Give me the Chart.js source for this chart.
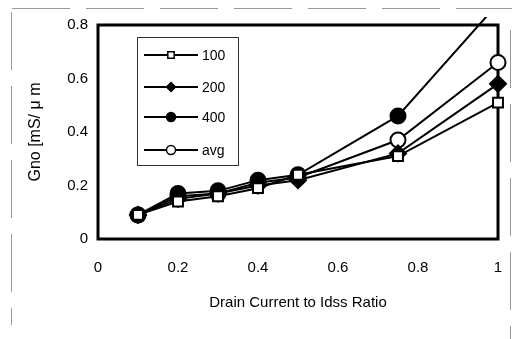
<!DOCTYPE html>
<html>
<head>
<meta charset="utf-8">
<script src="https://cdn.jsdelivr.net/npm/chart.js@4/dist/chart.umd.min.js"></script>
<style>
  html, body { margin: 0; padding: 0; background: #fff; }
  #wrap { width: 512px; height: 339px; position: relative; }
</style>
</head>
<body>
<div id="wrap"><canvas id="chart" width="512" height="339"></canvas></div>
<script>
// drain current / Idss ratio
const ratios = [0.1, 0.2, 0.3, 0.4, 0.5, 0.75, 1.0];
const series100 = [0.09, 0.14, 0.16, 0.19, 0.24, 0.31, 0.51];
const series200 = [0.09, 0.15, 0.17, 0.20, 0.22, 0.32, 0.58];
const series400 = [0.09, 0.17, 0.18, 0.22, 0.24, 0.46, 0.88];
const seriesAvg = [0.09, 0.16, 0.17, 0.21, 0.23, 0.37, 0.66];
const xTicks = [0, 0.2, 0.4, 0.6, 0.8, 1];
const yTicks = [0, 0.2, 0.4, 0.6, 0.8];

const FONT = "'Liberation Sans', Arial, sans-serif";

const toPoints = (vals) => vals.map((v, i) => ({ x: ratios[i], y: v }));

const makeSet = (label, vals, style, fill, radius) => ({
  label: label,
  data: toPoints(vals),
  borderColor: '#000',
  borderWidth: 2,
  pointStyle: style,
  pointRadius: radius,
  pointBorderWidth: 2,
  pointBackgroundColor: fill,
  pointBorderColor: '#000',
  tension: 0,
  clip: { left: 10, top: 8, right: 10, bottom: 10 }
});

const datasets = [
  makeSet('100', series100, 'rect', '#fff', 7),
  makeSet('200', series200, 'rectRot', '#000', 8),
  makeSet('400', series400, 'circle', '#000', 7.5),
  makeSet('avg', seriesAvg, 'circle', '#fff', 7.5)
];

// box legend inside the plot, like the original figure
const boxLegend = {
  id: 'boxLegend',
  afterDraw(chart) {
    const ctx = chart.ctx;
    const x0 = 137, y0 = 37, w = 101, h = 128;
    ctx.save();
    ctx.strokeStyle = '#333';
    ctx.lineWidth = 1;
    ctx.strokeRect(x0 + 0.5, y0 + 0.5, w, h);
    const rows = [55, 87, 117, 150];
    chart.data.datasets.forEach((ds, i) => {
      const y = rows[i];
      ctx.strokeStyle = '#000';
      ctx.lineWidth = 2;
      ctx.beginPath();
      ctx.moveTo(144, y);
      ctx.lineTo(198, y);
      ctx.stroke();
      ctx.fillStyle = ds.pointBackgroundColor;
      ctx.lineWidth = 1.5;
      Chart.helpers.drawPoint(ctx, {
        pointStyle: ds.pointStyle,
        radius: 4.5,
        borderWidth: 1.5
      }, 171, y);
      ctx.fillStyle = '#000';
      ctx.font = '14px ' + FONT;
      ctx.textBaseline = 'middle';
      ctx.textAlign = 'left';
      ctx.fillText(ds.label, 202, y + 1);
    });
    ctx.restore();
  }
};

// thick plot frame and the scanned page frame
const frame = {
  id: 'frame',
  beforeDatasetsDraw(chart) {
    const a = chart.chartArea;
    const ctx = chart.ctx;
    ctx.save();
    ctx.strokeStyle = '#000';
    ctx.lineWidth = 3;
    ctx.strokeRect(a.left, a.top, a.right - a.left, a.bottom - a.top);
    ctx.strokeStyle = '#999';
    ctx.lineWidth = 1;
    ctx.setLineDash([58, 16]);
    ctx.beginPath();
    ctx.moveTo(12, 8.5); ctx.lineTo(512, 8.5);
    ctx.moveTo(11.5, 12); ctx.lineTo(11.5, 325);
    ctx.moveTo(510.5, 30); ctx.lineTo(510.5, 339);
    ctx.stroke();
    ctx.restore();
  }
};

new Chart(document.getElementById('chart'), {
  type: 'line',
  data: { datasets: datasets },
  plugins: [frame, boxLegend],
  options: {
    responsive: false,
    animation: false,
    layout: { padding: { left: 22, top: 25, right: 14, bottom: 23 } },
    plugins: {
      legend: { display: false },
      tooltip: { enabled: false }
    },
    scales: {
      x: {
        type: 'linear',
        min: 0,
        max: 1,
        afterBuildTicks(scale) { scale.ticks = xTicks.map(v => ({ value: v })); },
        afterFit(scale) {
          scale.height = 77;
          scale.paddingLeft = 4;
          scale.paddingRight = 4;
        },
        grid: { display: false, drawTicks: false },
        border: { display: false },
        ticks: {
          color: '#000',
          padding: 20,
          font: { family: FONT, size: 15 },
          callback: (v) => String(v)
        },
        title: {
          display: true,
          text: 'Drain Current to Idss Ratio',
          color: '#000',
          font: { family: FONT, size: 15 },
          padding: { top: 12 }
        }
      },
      y: {
        min: 0,
        max: 0.8,
        afterBuildTicks(scale) { scale.ticks = yTicks.map(v => ({ value: v })); },
        afterFit(scale) {
          scale.width = 76;
          scale.paddingTop = 4;
          scale.paddingBottom = 4;
        },
        grid: { display: false, drawTicks: false },
        border: { display: false },
        ticks: {
          color: '#000',
          padding: 10,
          font: { family: FONT, size: 15 },
          callback: (v) => String(v)
        },
        title: {
          display: true,
          text: 'Gno [mS/ \u03bc m',
          color: '#000',
          font: { family: FONT, size: 16 },
          padding: { bottom: 14 }
        }
      }
    }
  }
});
</script>
</body>
</html>
